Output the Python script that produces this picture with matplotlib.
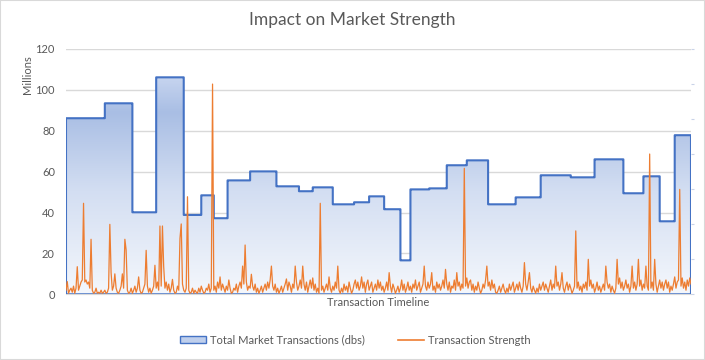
import numpy as np
import pandas as pd
import matplotlib
matplotlib.use('Agg')
import matplotlib.pyplot as plt
from matplotlib.colors import LinearSegmentedColormap
from matplotlib.patches import Patch, Rectangle
from matplotlib.lines import Line2D

plt.rcParams['font.family'] = ['Lato', 'DejaVu Sans']

# Step levels of the total market transactions (millions) and how many timeline points each lasts
total_levels = [86.1, 93.4, 40.1, 106.1, 38.8, 48.4, 37.2, 55.7, 60.1, 52.8,
                50.4, 52.3, 44.0, 45.0, 47.9, 41.6, 16.6, 51.3, 51.8, 63.1,
                65.5, 44.0, 47.4, 58.2, 57.2, 66.0, 49.4, 57.7, 35.7, 77.8]
level_lengths = [31, 22, 19, 22, 14, 10, 11, 18, 21, 18,
                 11, 16, 17, 12, 12, 13, 8, 15, 14, 16,
                 17, 22, 20, 24, 19, 23, 16, 13, 12, 14]

# Transaction strength along the timeline (500 points)
strength = [
    2, 6.2, 0.5, 2, 3, 1, 4, 0.5, 3, 13.5, 2, 4, 6, 7, 44.5, 6, 7, 5, 6, 3, 26.9, 2, 0.5, 1, 3,
    0.5, 1, 0.5, 2, 0.5, 1, 2, 0.5, 1, 3, 34.2, 10.6, 2, 4, 10, 3, 1, 0.5, 2, 4, 10, 3, 26.9, 21.7, 2,
    0.5, 1, 3, 0.5, 2, 4, 1, 3, 8.5, 2, 0.5, 1, 3, 5, 21.5, 4, 1, 3, 0.5, 2, 4, 14.2, 3, 6, 2,
    33.4, 4, 33.4, 13.5, 3, 6, 2, 5, 1, 3, 7.3, 2, 0.5, 1, 4, 2, 27.4, 34.4, 5, 2, 1, 3, 47.7, 2, 0.5,
    1, 3, 0.5, 2, 1, 0.5, 3, 1, 4, 2, 0.5, 1, 3, 2, 5, 1, 3, 102.8, 2, 4, 1, 6, 3, 8.5, 2,
    5, 3, 1, 4, 2, 7, 3, 0.5, 1, 3, 2, 5, 1, 4, 6, 3, 13.8, 5, 24.1, 6, 2, 4, 3, 9.8, 4,
    2, 5, 1, 3, 0.5, 2, 4, 1, 3, 5, 2, 6, 3, 7, 13.8, 4, 2, 5, 1, 3, 0.5, 2, 4, 1, 3,
    5, 7.5, 2, 6, 4, 1, 5, 3, 13.8, 6, 2, 4, 7, 3, 13.8, 5, 2, 6, 1, 4, 7, 3, 8, 2, 5,
    1, 3, 0.5, 44.5, 2, 4, 1, 3, 5, 2, 8.5, 3, 1, 4, 2, 6, 3, 13.8, 2, 0.5, 3, 1, 5, 2, 4,
    1, 6, 3, 0.5, 2, 5, 7, 3, 6, 2, 4, 8.5, 3, 6, 1, 5, 7, 2, 4, 6, 1, 3, 5, 2, 7,
    3, 6, 2, 4, 1, 3, 6, 2, 10.6, 4, 1, 5, 3, 0.5, 2, 4, 1, 3, 7, 2, 5, 1, 3, 6, 2,
    4, 1, 5, 3, 7, 2, 4, 6, 1, 3, 5, 13.8, 4, 2, 6, 3, 5, 10.6, 2, 4, 1, 6, 3, 5, 2,
    4, 7, 3, 12.2, 5, 2, 6, 1, 4, 3, 7, 2, 10.6, 4, 6, 2, 5, 3, 61.6, 4, 8, 3, 6, 7, 2,
    5, 1, 4, 2, 6, 3, 0.5, 2, 5, 3, 7, 13.8, 4, 6, 2, 7, 3, 5, 1, 0.5, 2, 4, 1, 3, 5,
    2, 0.5, 3, 1, 5, 2, 4, 6, 1, 3, 5, 2, 6, 3, 1, 4, 15.5, 5, 2, 6, 10.6, 3, 1, 4, 2,
    0.5, 3, 1, 5, 2, 4, 6, 2, 5, 3, 1, 4, 7, 2, 5, 3, 13.8, 4, 6, 2, 5, 10.6, 3, 1, 4,
    6, 2, 5, 3, 0.5, 2, 4, 31, 3, 6, 2, 4, 1, 5, 3, 6, 2, 17.1, 4, 7, 3, 5, 1, 3, 6,
    2, 4, 1, 3, 5, 2, 13.8, 6, 3, 5, 1, 4, 2, 0.5, 3, 17.1, 5, 8, 3, 6, 2, 4, 7, 3, 5,
    1, 4, 13.8, 3, 6, 2, 5, 17.1, 4, 7, 2, 5, 3, 13.8, 4, 2, 68.6, 3, 6, 2, 17.1, 5, 1, 4, 7,
    3, 6, 2, 5, 7, 3, 6, 1, 4, 2, 5, 8.5, 3, 6, 7, 51.3, 4, 8, 3, 6, 2, 7, 4, 8, 5,
]

y_ticks = [0, 20, 40, 60, 80, 100, 120]

df = pd.DataFrame({
    'total': np.repeat(total_levels, level_lengths),
    'strength': strength,
})
t = np.arange(len(df))

grey_text = '#595959'
blue = '#4472C4'
orange = '#ED7D31'

fig = plt.figure(figsize=(7.05, 3.6), dpi=100)
fig.patches.append(Rectangle((0, 0), 1, 1, transform=fig.transFigure,
                             facecolor='white', edgecolor='#D9D9D9', lw=1.5, zorder=-10))
ax = fig.add_axes([66 / 705, 1 - 294.3 / 360, 625 / 705, 245.4 / 360])

# gridlines under the area
ax.set_axisbelow(True)
ax.yaxis.grid(True, color='#D9D9D9', lw=1)

# area with gradient fill
poly = ax.fill_between(t, df['total'], step='post', facecolor='none',
                       edgecolor=blue, lw=1.5, zorder=3)
grad = LinearSegmentedColormap.from_list('g', [(0, '#F4F7FC'), (0.42, '#D3DEF2'),
                                               (0.74, '#A9BEE4'), (0.88, '#C6D4EF'),
                                               (1, '#D6E0F3')])
img = ax.imshow(np.linspace(0, 1, 256).reshape(-1, 1), cmap=grad, origin='lower',
                extent=[0, len(df) - 1, 0, 120], aspect='auto', zorder=2)
img.set_clip_path(poly.get_paths()[0], transform=ax.transData)

ax.plot(t, df['strength'], color=orange, lw=0.9, zorder=4)

ax.set_xlim(0, len(df) - 1)
ax.set_ylim(0, 120)
ax.set_yticks(y_ticks)
ax.set_xticks([])
ax.tick_params(axis='y', length=0, labelsize=8, labelcolor=grey_text, pad=8)
for s in ['top', 'right', 'left']:
    ax.spines[s].set_visible(False)
ax.spines['bottom'].set_color('#D9D9D9')

# secondary axis: tick marks only
ax2 = ax.twinx()
ax2.set_ylim(0, 7)
ax2.set_yticks(range(8))
ax2.tick_params(axis='y', length=2, color='#C9D3E8', labelright=False)
for s in ax2.spines.values():
    s.set_visible(False)

ax.set_xlabel('Transaction Timeline', fontsize=8, color=grey_text, labelpad=2)
fig.text(27 / 705, 1 - 75 / 360, 'Millions', rotation=90, ha='center', va='center',
         fontsize=8, color=grey_text)
fig.text(0.5, 1 - 20 / 360, 'Impact on Market Strength', ha='center', va='center',
         fontsize=12.5, color=grey_text)

handles = [Patch(facecolor='#BFCFEC', edgecolor=blue, lw=1),
           Line2D([0], [0], color=orange, lw=1.2)]
fig.legend(handles, ['Total Market Transactions (dbs)', 'Transaction Strength'],
           loc='center', bbox_to_anchor=(355 / 705, 1 - 340 / 360), ncol=2,
           frameon=False, fontsize=8, labelcolor=grey_text,
           handlelength=2.4, handleheight=0.6, columnspacing=3, handletextpad=0.3)

fig.savefig('out.png', dpi=100)
